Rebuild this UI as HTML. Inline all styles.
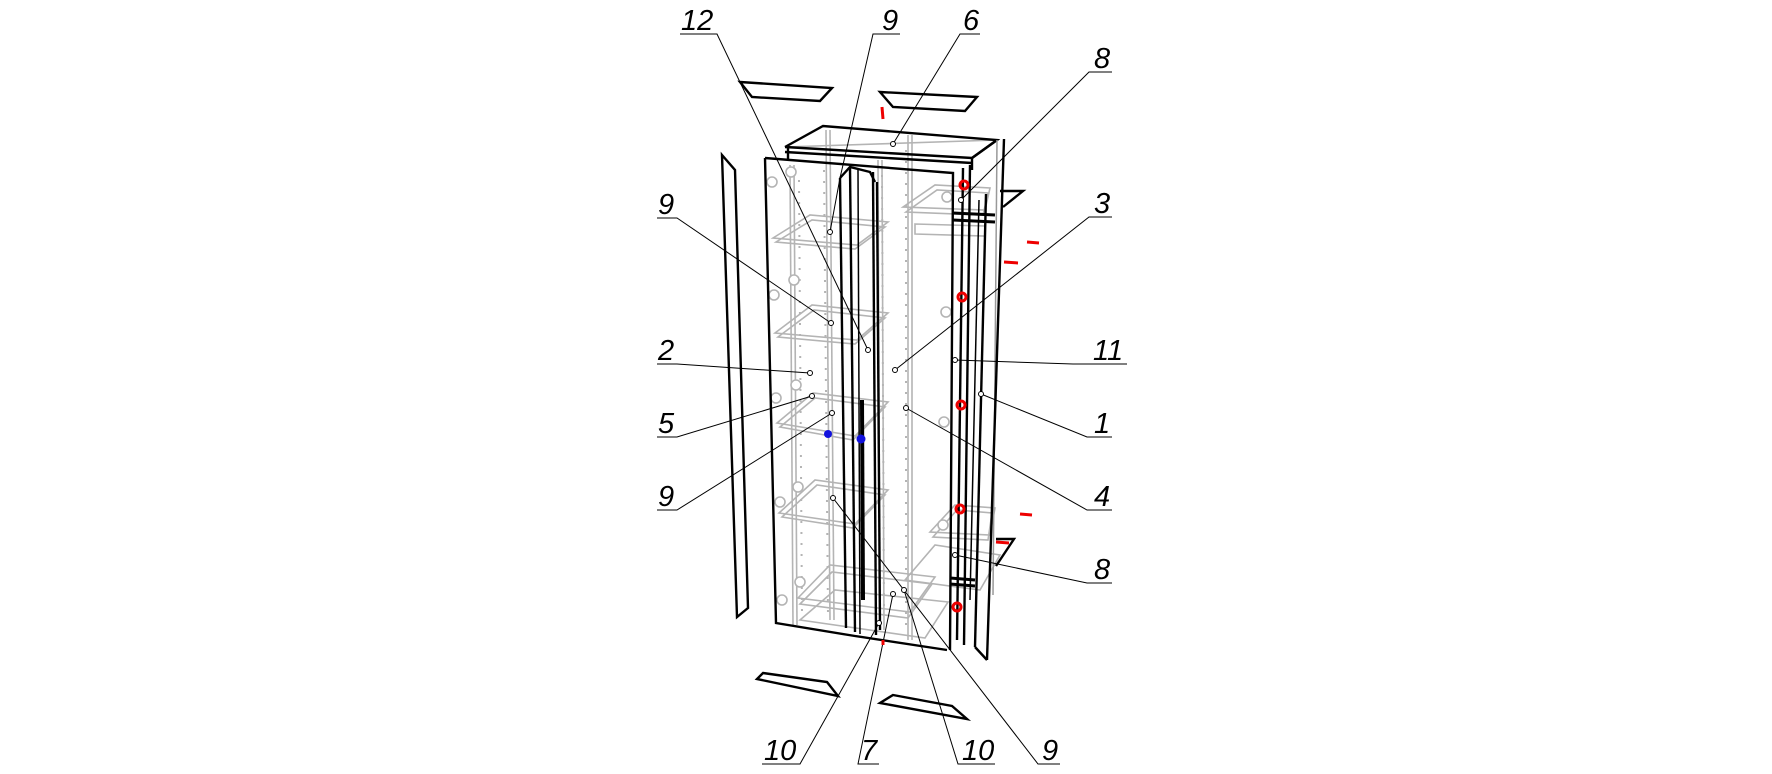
<!DOCTYPE html>
<html><head><meta charset="utf-8"><style>
html,body{margin:0;padding:0;background:#fff}
svg{display:block}
text{font-family:"Liberation Sans",sans-serif;font-style:italic;font-size:29px;fill:#000}
</style></head><body>
<svg width="1772" height="774" viewBox="0 0 1772 774" xmlns="http://www.w3.org/2000/svg">
<!-- gray interior -->
<g stroke="#b4b4b4" stroke-width="1.6" fill="none">
  <line x1="790" y1="165" x2="793" y2="625"/><line x1="794" y1="165" x2="797" y2="625"/>
  <line x1="826" y1="130" x2="830" y2="620"/><line x1="830" y1="130" x2="834" y2="620"/>
  <line x1="878" y1="160" x2="880" y2="630"/><line x1="882" y1="160" x2="884" y2="630"/>
  <line x1="908" y1="135" x2="908" y2="640"/><line x1="912" y1="135" x2="912" y2="640"/>
  <line x1="785" y1="147" x2="997" y2="140"/>
  <polygon points="773,238 810,215 888,222 857,245"/><polygon points="776,242 812,220 885,227 855,249"/>
  <polygon points="775,333 812,305 888,313 857,340"/><polygon points="778,337 814,310 885,318 855,344"/>
  <polygon points="777,423 813,393 888,402 855,436"/><polygon points="780,427 815,398 885,407 853,440"/>
  <polygon points="779,513 815,480 888,490 855,524"/><polygon points="782,517 817,485 885,495 853,528"/>
  <polygon points="798,598 830,565 935,577 910,612"/><polygon points="800,604 832,572 932,584 908,618"/>
  <polygon points="800,620 835,590 948,602 925,638"/>
  <polygon points="903,207 935,185 990,188 985,210"/><polygon points="906,212 937,190 988,193 983,215"/>
  <polygon points="915,224 985,226 985,236 915,234"/>
  <polygon points="930,532 955,505 995,508 990,535"/><polygon points="933,537 957,510 992,513 988,540"/>
  <polygon points="905,580 935,545 1000,555 980,590"/>
</g>
<g stroke="#b4b4b4" stroke-width="2" fill="none" stroke-dasharray="2 9">
  <line x1="824" y1="170" x2="828" y2="615"/><line x1="882" y1="175" x2="884" y2="615"/>
  <line x1="906" y1="150" x2="906" y2="630"/><line x1="799" y1="180" x2="802" y2="615"/>
</g>
<g stroke="#b4b4b4" stroke-width="1.6" fill="#fff">
  <circle cx="791" cy="172" r="5"/><circle cx="772" cy="182" r="5"/><circle cx="794" cy="280" r="5"/>
  <circle cx="774" cy="295" r="5"/><circle cx="796" cy="385" r="5"/><circle cx="776" cy="398" r="5"/>
  <circle cx="798" cy="487" r="5"/><circle cx="780" cy="502" r="5"/><circle cx="800" cy="582" r="5"/>
  <circle cx="782" cy="600" r="5"/><circle cx="947" cy="197" r="5"/><circle cx="946" cy="312" r="5"/>
  <circle cx="944" cy="422" r="5"/><circle cx="943" cy="525" r="5"/>
</g>
<!-- black outlines -->
<g stroke="#000" stroke-width="2.4" fill="none" stroke-linejoin="miter">
  <!-- top trapezoids -->
  <polygon points="740,82 832,88 820,101 752,97"/>
  <polygon points="880,92 977,97 965,111 893,107"/>
  <!-- bottom trapezoids -->
  <polygon points="763,673 827,682 838,696 757,679"/>
  <polygon points="893,695 952,706 967,719 880,703"/>
  <!-- left loose panel -->
  <polygon points="722,155 735,170 748,608 737,617"/>
  <!-- top box -->
  <polyline points="785,147 823,126 997,140 972,158 785,147"/>
  <line x1="785" y1="152" x2="972" y2="163"/>
  <line x1="788" y1="148" x2="788" y2="160"/><line x1="972" y1="158" x2="972" y2="170"/>
  <!-- front left -->
  <polyline points="765,158 953,173 950,650"/>
  <polyline points="765,158 776,623 855,636 947,650"/>
  <!-- central door lines -->
  <line x1="840" y1="178" x2="846" y2="628"/>
  <line x1="850" y1="167" x2="855" y2="632"/>
  <line x1="873" y1="172" x2="876" y2="635"/>
  <line x1="877" y1="182" x2="880" y2="630"/>
  <polyline points="840,178 850,167 870,172 875,182"/>
  <line x1="862" y1="400" x2="863" y2="600" stroke-width="4"/>
  <line x1="858" y1="170" x2="860" y2="634" stroke-width="1.5"/>
  <!-- right body side -->
  <line x1="963" y1="168" x2="957" y2="640"/>
  <line x1="970" y1="165" x2="964" y2="645"/>
  <line x1="972" y1="158" x2="997" y2="140"/>
  <line x1="997" y1="140" x2="993" y2="595" stroke="#999" stroke-width="1.5"/>
  <!-- right loose panel -->
  <line x1="1004" y1="139" x2="987" y2="660"/>
  <line x1="986" y1="194" x2="975" y2="647"/>
  <line x1="975" y1="647" x2="987" y2="660"/>
  <line x1="979" y1="200" x2="970" y2="600" stroke-width="1.5"/>
  <!-- brackets -->
  <polyline points="1000,191 1023,191 1003,207"/>
  <polyline points="996,539 1014,539 996,566"/>
  <line x1="953" y1="213" x2="995" y2="215" stroke-width="3"/>
  <line x1="953" y1="220" x2="995" y2="222" stroke-width="3"/>
  <line x1="950" y1="578" x2="975" y2="580" stroke-width="3"/>
  <line x1="950" y1="584" x2="975" y2="586" stroke-width="3"/>
</g>
<!-- leaders -->
<g stroke="#000" stroke-width="1" fill="none">
  <polyline points="680,34 717,34 868,350"/>
  <polyline points="900,34 873,34 840,178 830,232"/>
  <polyline points="980,34 960,34 893,144"/>
  <polyline points="657,218 677,218 831,323"/>
  <polyline points="657,364 677,364 810,373"/>
  <polyline points="657,437 677,437 812,396"/>
  <polyline points="657,510 677,510 832,413"/>
  <polyline points="1112,72 1089,72 961,200"/>
  <polyline points="1112,217 1089,217 895,370"/>
  <polyline points="1127,364 1073,364 955,360"/>
  <polyline points="1112,437 1087,437 981,394"/>
  <polyline points="1112,510 1087,510 906,408"/>
  <polyline points="1112,583 1087,583 955,555"/>
  <polyline points="762,764 800,764 879,623"/>
  <polyline points="879,764 858,764 893,594"/>
  <polyline points="995,764 958,764 904,590"/>
  <polyline points="1060,764 1038,764 833,498"/>
</g>
<g stroke="#000" stroke-width="1" fill="#fff">
  <circle cx="868" cy="350" r="2.5"/><circle cx="830" cy="232" r="2.5"/><circle cx="893" cy="144" r="2.5"/>
  <circle cx="831" cy="323" r="2.5"/><circle cx="810" cy="373" r="2.5"/><circle cx="812" cy="396" r="2.5"/>
  <circle cx="832" cy="413" r="2.5"/><circle cx="961" cy="200" r="2.5"/><circle cx="895" cy="370" r="2.5"/>
  <circle cx="955" cy="360" r="2.5"/><circle cx="981" cy="394" r="2.5"/><circle cx="906" cy="408" r="2.5"/>
  <circle cx="955" cy="555" r="2.5"/><circle cx="879" cy="623" r="2.5"/><circle cx="893" cy="594" r="2.5"/>
  <circle cx="904" cy="590" r="2.5"/><circle cx="833" cy="498" r="2.5"/>
</g>
<!-- red marks -->
<g stroke="#e00" stroke-width="3" fill="none">
  <circle cx="964" cy="185" r="4"/><circle cx="962" cy="297" r="4"/><circle cx="961" cy="405" r="4"/>
  <circle cx="960" cy="509" r="4"/><circle cx="957" cy="607" r="4"/>
  <line x1="882" y1="107" x2="883" y2="119"/>
  <line x1="1027" y1="242" x2="1039" y2="243"/><line x1="1004" y1="262" x2="1018" y2="263"/>
  <line x1="1020" y1="514" x2="1032" y2="515"/><line x1="996" y1="542" x2="1009" y2="543"/>
  <line x1="883" y1="640" x2="883" y2="645"/>
</g>
<g fill="#11d"><circle cx="828" cy="434" r="4"/><circle cx="861" cy="439" r="4.5"/></g>
<!-- labels -->
<text x="681" y="30">12</text>
<text x="882" y="30">9</text>
<text x="963" y="30">6</text>
<text x="658" y="214">9</text>
<text x="658" y="360">2</text>
<text x="658" y="433">5</text>
<text x="658" y="506">9</text>
<text x="1094" y="68">8</text>
<text x="1094" y="213">3</text>
<text x="1093" y="360">11</text>
<text x="1094" y="433">1</text>
<text x="1094" y="506">4</text>
<text x="1094" y="579">8</text>
<text x="764" y="760">10</text>
<text x="861" y="760">7</text>
<text x="962" y="760">10</text>
<text x="1042" y="760">9</text>
</svg>
</body></html>
